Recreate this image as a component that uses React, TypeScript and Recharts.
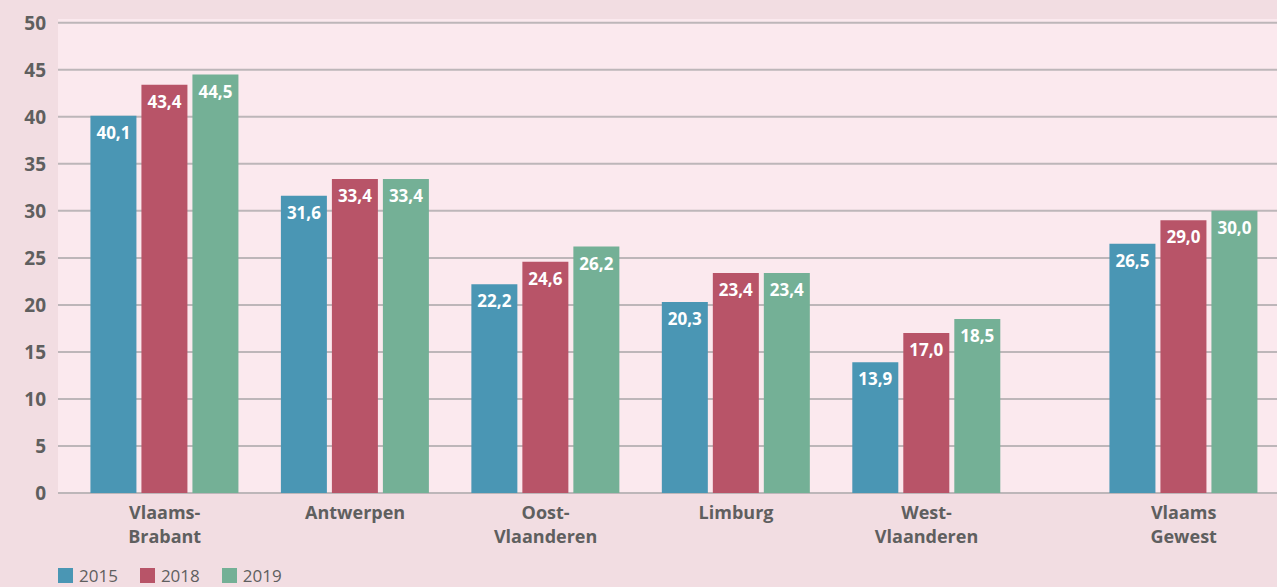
import { BarChart, Bar, XAxis, YAxis, CartesianGrid, Legend, LabelList } from 'recharts';

const REGIONS = ['Vlaams-Brabant', 'Antwerpen', 'Oost-Vlaanderen', 'Limburg', 'West-Vlaanderen', 'Vlaams Gewest'];
const REGION_LINES = [
  ['Vlaams-', 'Brabant'],
  ['Antwerpen'],
  ['Oost-', 'Vlaanderen'],
  ['Limburg'],
  ['West-', 'Vlaanderen'],
  ['Vlaams', 'Gewest'],
];
const V2015 = [40.1, 31.6, 22.2, 20.3, 13.9, 26.5];
const V2018 = [43.4, 33.4, 24.6, 23.4, 17.0, 29.0];
const V2019 = [44.5, 33.4, 26.2, 23.4, 18.5, 30.0];
const Y_TICKS = [0, 5, 10, 15, 20, 25, 30, 35, 40, 45, 50];
const Y_MAX = 50.4;

const SERIES = [
  { key: 'y2015', name: '2015', color: '#4a96b4' },
  { key: 'y2018', name: '2018', color: '#b85468' },
  { key: 'y2019', name: '2019', color: '#74b096' },
];

// the regional total sits a bit apart from the provinces
const GEWEST_GAP = 0.35;
const positions = REGIONS.map((_, i) => (i === REGIONS.length - 1 ? i + GEWEST_GAP : i));

const data = REGIONS.map((name, i) => ({
  name,
  pos: positions[i],
  y2015: V2015[i],
  y2018: V2018[i],
  y2019: V2019[i],
}));

const FONT = '"Open Sans", sans-serif';
const TEXT = '#5f5f5f';

const fmt = (v: any) => Number(v).toFixed(1).replace('.', ',');

// gridlines only at the tick values
const gridY = ({ offset }: any) => Y_TICKS.map((t) => offset.top + offset.height * (1 - t / Y_MAX));

function RegionTick({ x, y, payload }: any) {
  const idx = positions.indexOf(payload.value);
  const lines = REGION_LINES[idx] || [];
  return (
    <g>
      {lines.map((l, i) => (
        <text
          key={i}
          x={x}
          y={y + 24 + i * 24}
          textAnchor="middle"
          fill={TEXT}
          fontFamily={FONT}
          fontWeight={700}
          fontSize={18}
        >
          {l}
        </text>
      ))}
    </g>
  );
}

function LegendContent() {
  return (
    <div style={{ display: 'flex', alignItems: 'center', height: 24, fontFamily: FONT, fontSize: 17, color: TEXT }}>
      {SERIES.map((s) => (
        <div key={s.key} style={{ display: 'flex', alignItems: 'center', marginRight: 22 }}>
          <span style={{ width: 15, height: 15, background: s.color, display: 'inline-block', marginRight: 6 }} />
          <span>{s.name}</span>
        </div>
      ))}
    </div>
  );
}

export default function App() {
  return (
    <div style={{ position: 'absolute', top: 0, left: 0, width: 1277, height: 587, background: '#f2dde2' }}>
      <BarChart
        width={1277}
        height={587}
        data={data}
        margin={{ top: 19, right: 0, bottom: 0, left: 0 }}
        barGap={5}
      >
        <CartesianGrid
          vertical={false}
          stroke="#bdb6b9"
          strokeWidth={2}
          fill="#fbe9ee"
          horizontalCoordinatesGenerator={gridY}
        />
        <XAxis
          type="number"
          dataKey="pos"
          domain={[-0.56, 5.84]}
          ticks={positions}
          interval={0}
          allowDataOverflow
          axisLine={false}
          tickLine={false}
          tickSize={0}
          height={70}
          tick={<RegionTick />}
        />
        <YAxis
          domain={[0, Y_MAX]}
          ticks={Y_TICKS}
          interval={0}
          width={58}
          axisLine={false}
          tickLine={false}
          tickSize={0}
          tickMargin={12}
          tick={{ fill: TEXT, fontSize: 19, fontWeight: 700, fontFamily: FONT }}
        />
        <Legend
          verticalAlign="bottom"
          align="left"
          content={<LegendContent />}
          wrapperStyle={{ left: 58, height: 24 }}
        />
        {SERIES.map((s) => (
          <Bar key={s.key} dataKey={s.key} name={s.name} fill={s.color} barSize={46} isAnimationActive={false}>
            <LabelList
              dataKey={s.key}
              position="insideTop"
              offset={11}
              formatter={fmt}
              fill="#ffffff"
              fontSize={17}
              fontWeight={700}
              fontFamily={FONT}
            />
          </Bar>
        ))}
      </BarChart>
    </div>
  );
}
